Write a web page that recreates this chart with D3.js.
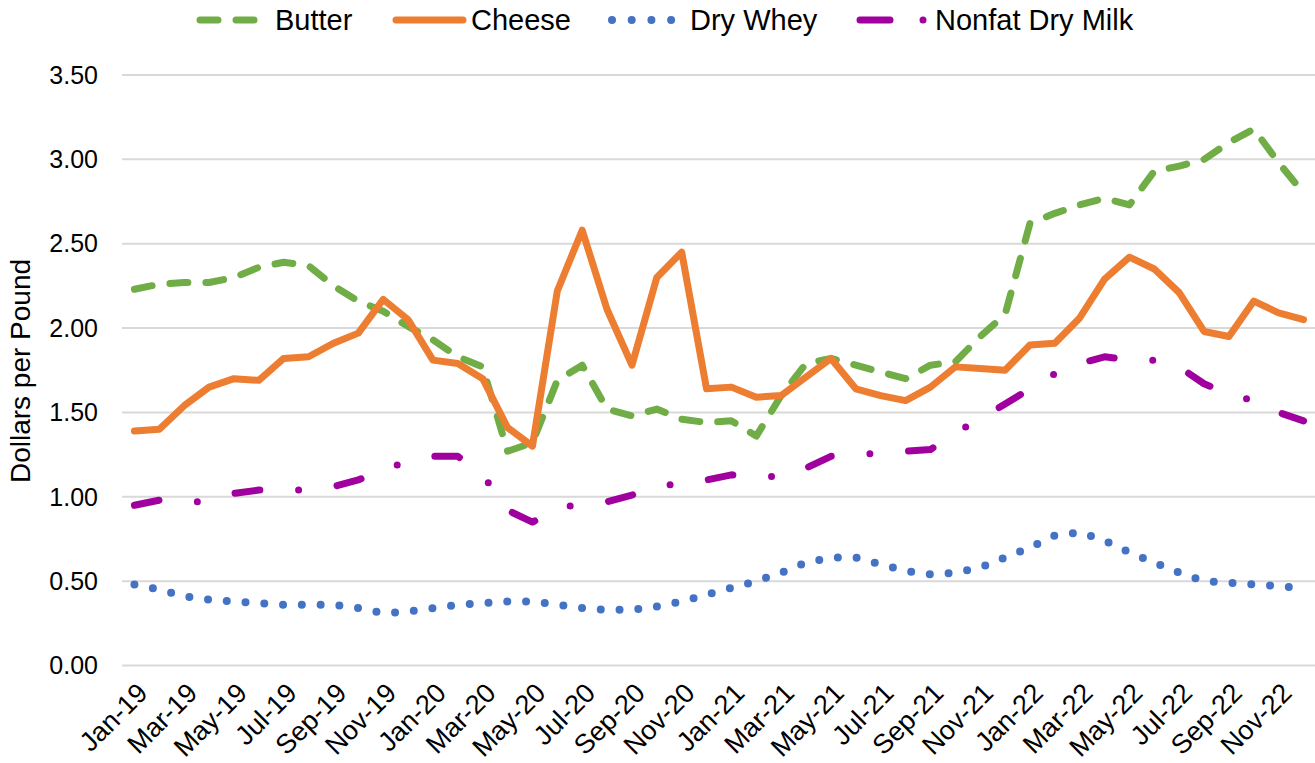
<!DOCTYPE html>
<html>
<head>
<meta charset="utf-8">
<script src="https://cdn.jsdelivr.net/npm/d3@7"></script>
<style>
  body { margin: 0; background: #fff; }
  text { font-family: Arial, "Liberation Sans", sans-serif; fill: #000; }
</style>
</head>
<body>
<svg id="chart" width="1315" height="763"></svg>
<script>
// Monthly prices, Jan-19 .. Dec-22
const months = [
  "Jan-19","Feb-19","Mar-19","Apr-19","May-19","Jun-19","Jul-19","Aug-19","Sep-19","Oct-19","Nov-19","Dec-19",
  "Jan-20","Feb-20","Mar-20","Apr-20","May-20","Jun-20","Jul-20","Aug-20","Sep-20","Oct-20","Nov-20","Dec-20",
  "Jan-21","Feb-21","Mar-21","Apr-21","May-21","Jun-21","Jul-21","Aug-21","Sep-21","Oct-21","Nov-21","Dec-21",
  "Jan-22","Feb-22","Mar-22","Apr-22","May-22","Jun-22","Jul-22","Aug-22","Sep-22","Oct-22","Nov-22","Dec-22"
];
const butter = [
  2.23,2.26,2.27,2.27,2.30,2.36,2.39,2.37,2.25,2.16,2.10,2.01,
  1.93,1.83,1.77,1.27,1.32,1.69,1.78,1.52,1.48,1.52,1.46,1.44,
  1.45,1.36,1.60,1.79,1.82,1.78,1.74,1.70,1.78,1.80,1.95,2.08,
  2.62,2.68,2.73,2.77,2.73,2.93,2.96,3.00,3.10,3.18,2.98,2.80
];
const cheese = [
  1.39,1.40,1.54,1.65,1.70,1.69,1.82,1.83,1.91,1.97,2.17,2.05,
  1.81,1.79,1.70,1.41,1.30,2.22,2.58,2.11,1.78,2.30,2.45,1.64,
  1.65,1.59,1.60,1.71,1.82,1.64,1.60,1.57,1.65,1.77,1.76,1.75,
  1.90,1.91,2.06,2.29,2.42,2.35,2.21,1.98,1.95,2.16,2.09,2.05
];
const dryWhey = [
  0.48,0.45,0.41,0.39,0.38,0.37,0.36,0.36,0.36,0.34,0.31,0.32,
  0.34,0.36,0.37,0.38,0.38,0.36,0.34,0.33,0.33,0.35,0.38,0.42,
  0.46,0.50,0.55,0.61,0.64,0.64,0.60,0.56,0.54,0.55,0.58,0.64,
  0.70,0.77,0.79,0.74,0.67,0.61,0.55,0.50,0.49,0.48,0.47,0.46
];
const nfdm = [
  0.95,0.98,0.96,0.98,1.02,1.04,1.04,1.04,1.06,1.10,1.16,1.21,
  1.24,1.24,1.13,0.92,0.85,0.93,0.96,0.97,1.01,1.05,1.09,1.10,
  1.13,1.12,1.12,1.17,1.24,1.25,1.26,1.27,1.28,1.38,1.46,1.55,
  1.64,1.73,1.79,1.83,1.81,1.81,1.77,1.67,1.61,1.57,1.50,1.45
];
const yTicks = [0, 0.5, 1, 1.5, 2, 2.5, 3, 3.5];

const series = [
  { name: "Butter", values: butter, color: "#70AD47", dash: "18,18" },
  { name: "Cheese", values: cheese, color: "#ED7D31", dash: null },
  { name: "Dry Whey", values: dryWhey, color: "#4472C4", dash: "0,18.8", width: 8 },
  { name: "Nonfat Dry Milk", values: nfdm, color: "#A0009E", dash: "25,38.75,0,38.75" }
];

const svg = d3.select("#chart");
const plotLeft = 122, plotRight = 1316, plotTop = 75, plotBottom = 665.5;

const x = d3.scalePoint().domain(months).range([plotLeft, plotRight]).padding(0.5);
const y = d3.scaleLinear().domain([0, 3.5]).range([plotBottom, plotTop]);

// gridlines
svg.append("g").selectAll("line")
  .data(yTicks)
  .enter().append("line")
  .attr("x1", plotLeft).attr("x2", 1315)
  .attr("y1", d => y(d)).attr("y2", d => y(d))
  .attr("stroke", "#D9D9D9").attr("stroke-width", 2);

// y tick labels
svg.append("g").selectAll("text")
  .data(yTicks)
  .enter().append("text")
  .attr("x", 98).attr("y", d => y(d))
  .attr("dy", "0.35em")
  .attr("text-anchor", "end")
  .attr("font-size", "25px")
  .text(d => d.toFixed(2));

// y axis title
svg.append("text")
  .attr("transform", "translate(30,371) rotate(-90)")
  .attr("text-anchor", "middle")
  .attr("font-size", "28px")
  .text("Dollars per Pound");

// x tick labels, every other month
svg.append("g").selectAll("text")
  .data(months.filter((m, i) => i % 2 === 0))
  .enter().append("text")
  .attr("transform", d => `translate(${x(d) + 8},${688}) rotate(-45)`)
  .attr("dy", "0.35em")
  .attr("text-anchor", "end")
  .attr("font-size", "27px")
  .text(d => d);

// lines
const line = d3.line()
  .x((d, i) => x(months[i]))
  .y(d => y(d));

svg.append("g").selectAll("path")
  .data(series)
  .enter().append("path")
  .attr("d", d => line(d.values))
  .attr("fill", "none")
  .attr("stroke", d => d.color)
  .attr("stroke-width", d => d.width || 7)
  .attr("stroke-linecap", "round")
  .attr("stroke-linejoin", "round")
  .attr("stroke-dasharray", d => d.dash);

// legend
const legendItems = [
  { s: series[0], x1: 200, x2: 254, tx: 275 },
  { s: series[1], x1: 396, x2: 463, tx: 471 },
  { s: series[2], x1: 612, x2: 672, tx: 690 },
  { s: series[3], x1: 860, x2: 925, tx: 935 }
];
const legend = svg.append("g");
legend.selectAll("line")
  .data(legendItems)
  .enter().append("line")
  .attr("x1", d => d.x1).attr("x2", d => d.x2)
  .attr("y1", 20).attr("y2", 20)
  .attr("stroke", d => d.s.color)
  .attr("stroke-width", d => d.s.width || 7)
  .attr("stroke-linecap", "round")
  .attr("stroke-dasharray", d => d.s.name === "Dry Whey" ? "0,19.7" : (d.s.name === "Nonfat Dry Milk" ? "30,33,0,40" : d.s.dash));
legend.selectAll("text")
  .data(legendItems)
  .enter().append("text")
  .attr("x", d => d.tx).attr("y", 20)
  .attr("dy", "0.35em")
  .attr("font-size", "29px")
  .text(d => d.s.name);
</script>
</body>
</html>
